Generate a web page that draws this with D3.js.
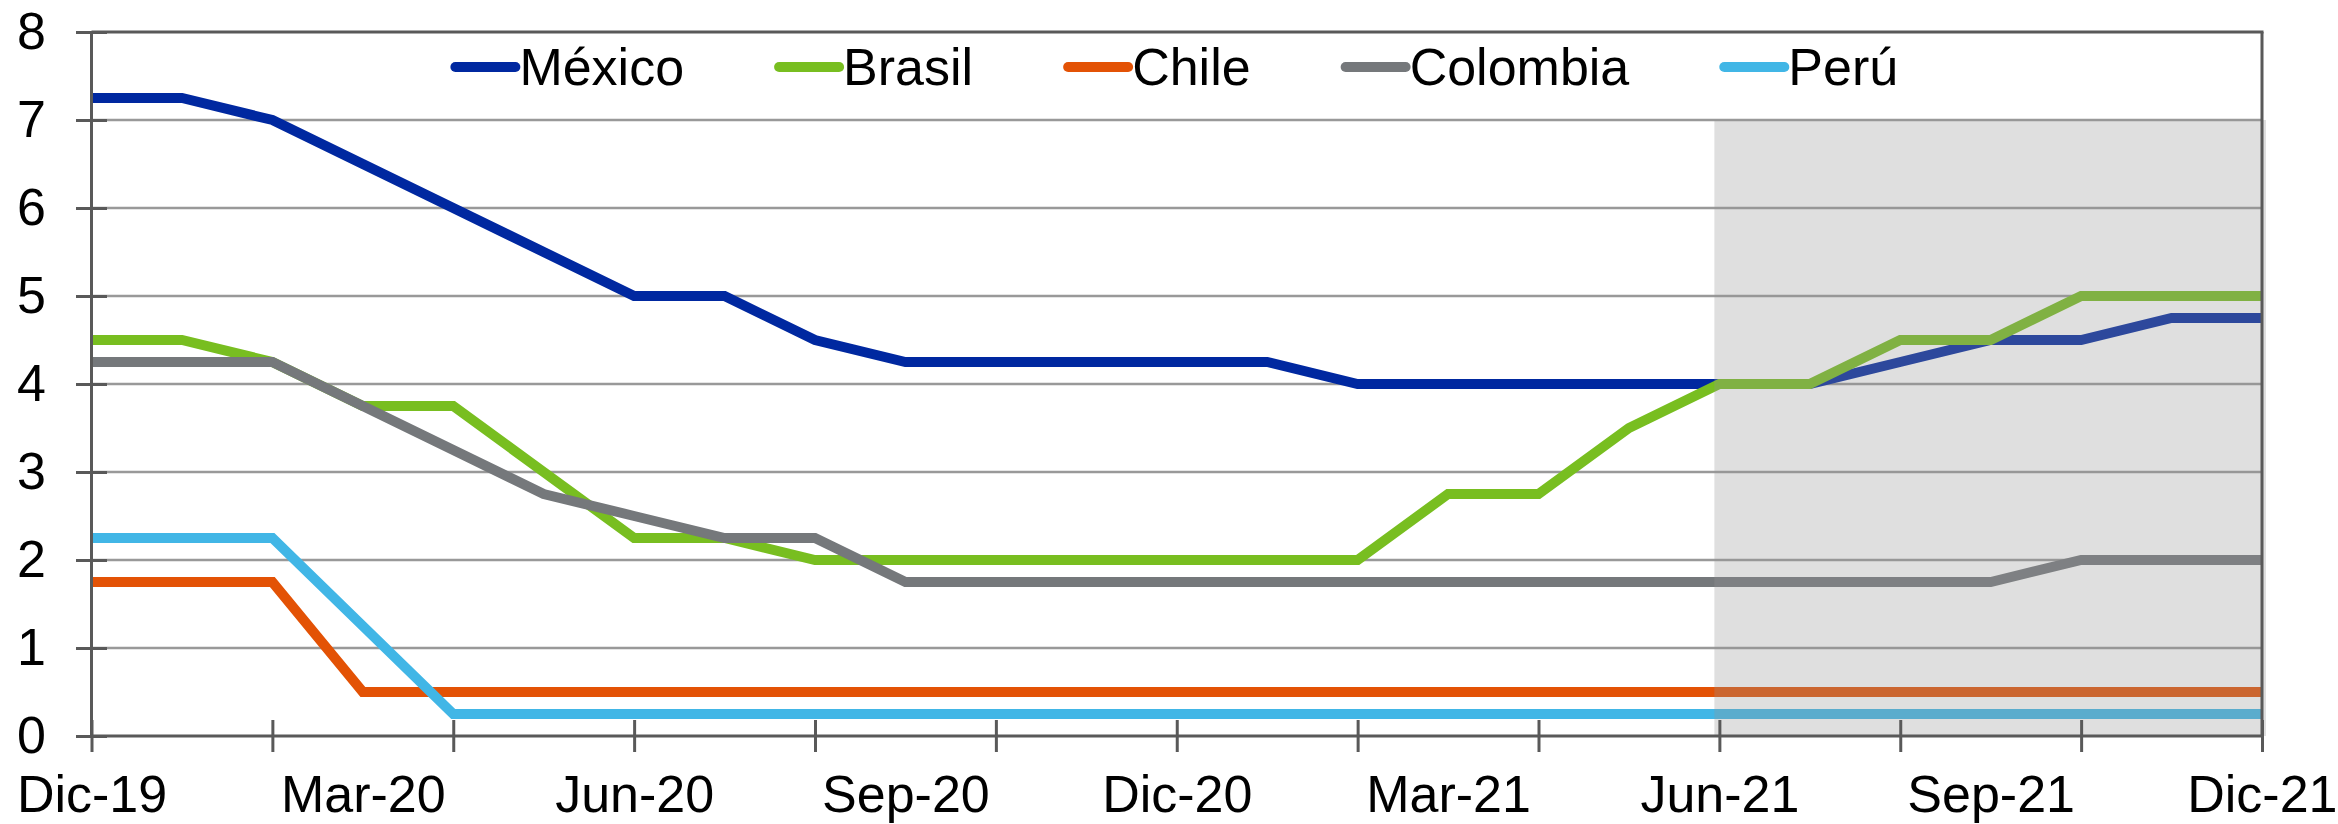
<!DOCTYPE html>
<html><head><meta charset="utf-8">
<script src="https://cdn.jsdelivr.net/npm/d3@7/dist/d3.min.js"></script>
<style>
html,body{margin:0;padding:0;background:#fff;}
svg{display:block;font-family:"Liberation Sans",Arial,sans-serif;}
</style></head>
<body>
<svg id="chart" width="2338" height="824"></svg>
<script>
// ---- data ----
const months = ["Dic-19","Ene-20","Feb-20","Mar-20","Abr-20","May-20","Jun-20","Jul-20","Ago-20","Sep-20","Oct-20","Nov-20","Dic-20","Ene-21","Feb-21","Mar-21","Abr-21","May-21","Jun-21","Jul-21","Ago-21","Sep-21","Oct-21","Nov-21","Dic-21"];
const mexico   = [7.25,7.25,7.0,6.5,6.0,5.5,5.0,5.0,4.5,4.25,4.25,4.25,4.25,4.25,4.0,4.0,4.0,4.0,4.0,4.0,4.25,4.5,4.5,4.75,4.75];
const brasil   = [4.5,4.5,4.25,3.75,3.75,3.0,2.25,2.25,2.0,2.0,2.0,2.0,2.0,2.0,2.0,2.75,2.75,3.5,4.0,4.0,4.5,4.5,5.0,5.0,5.0];
const chile    = [1.75,1.75,1.75,0.5,0.5,0.5,0.5,0.5,0.5,0.5,0.5,0.5,0.5,0.5,0.5,0.5,0.5,0.5,0.5,0.5,0.5,0.5,0.5,0.5,0.5];
const colombia = [4.25,4.25,4.25,3.75,3.25,2.75,2.5,2.25,2.25,1.75,1.75,1.75,1.75,1.75,1.75,1.75,1.75,1.75,1.75,1.75,1.75,1.75,2.0,2.0,2.0];
const peru     = [2.25,2.25,2.25,1.25,0.25,0.25,0.25,0.25,0.25,0.25,0.25,0.25,0.25,0.25,0.25,0.25,0.25,0.25,0.25,0.25,0.25,0.25,0.25,0.25,0.25];
const seriesNames  = ["México","Brasil","Chile","Colombia","Perú"];
const seriesColors = ["#0028A0","#78BE20","#E35205","#75787B","#41B6E6"];
const yTicks = [0,1,2,3,4,5,6,7,8];
const xLabelMonths = months.filter((d,i)=>i%3===0);
const xTickMonths  = months.filter((d,i)=>i%2===0);
const shadeRange = ["Jun-21","Dic-21"];
const shadeTop = 7;

const seriesValues = [mexico, brasil, chile, colombia, peru];

// ---- layout ----
const svg = d3.select("#chart");
const L = 91.5, R = 2262, T = 32, B = 736;
const x = d3.scalePoint().domain(months).range([L, R]);
const y = d3.scaleLinear().domain([0, 8]).range([B, T]);
const fontSize = 52;
const lineW = 10;

// gridlines
svg.append("g").selectAll("line").data(yTicks.filter(v=>v>0 && v<8)).join("line")
  .attr("x1", L).attr("x2", R).attr("y1", d=>y(d)).attr("y2", d=>y(d))
  .attr("stroke", "#999").attr("stroke-width", 2.5);

// series lines
const line = d3.line().x((d,i)=>x(months[i])).y(d=>y(d));
svg.append("g").selectAll("path").data(seriesValues).join("path")
  .attr("d", d=>line(d)).attr("fill","none")
  .attr("stroke", (d,i)=>seriesColors[i]).attr("stroke-width", lineW)
  .attr("stroke-linejoin","miter");

// shaded forecast area (drawn over lines)
svg.append("rect")
  .attr("x", x(shadeRange[0]) - 5).attr("y", y(shadeTop))
  .attr("width", x(shadeRange[1]) - x(shadeRange[0]) + 9)
  .attr("height", y(0) - y(shadeTop))
  .attr("fill", "rgb(150,150,150)").attr("fill-opacity", 0.3);

const axisColor = "#595959";
// plot border: top & right
svg.append("line").attr("x1", L).attr("x2", R+1.5).attr("y1", T).attr("y2", T).attr("stroke", axisColor).attr("stroke-width", 3);
svg.append("line").attr("x1", R).attr("x2", R).attr("y1", T).attr("y2", B).attr("stroke", axisColor).attr("stroke-width", 3);

// y axis: crossing ticks
const yTickG = svg.append("g").attr("transform", `translate(${L-15.5},0)`)
  .call(d3.axisRight(y).tickValues(yTicks).tickSize(31).tickFormat(""));
yTickG.select(".domain").remove();
yTickG.selectAll("line").attr("stroke", axisColor).attr("stroke-width", 3);
// y axis line
svg.append("line").attr("x1", L).attr("x2", L).attr("y1", T).attr("y2", B).attr("stroke", axisColor).attr("stroke-width", 3);
// y labels
const yLabG = svg.append("g").attr("transform", `translate(48,0)`)
  .call(d3.axisLeft(y).tickValues(yTicks).tickSize(0).tickPadding(2).tickFormat(d3.format("d")));
yLabG.select(".domain").remove();
yLabG.selectAll("text").attr("font-size", fontSize).attr("fill", "#000")
  .attr("font-family", '"Liberation Sans",Arial,sans-serif');

// x axis crossing ticks
const xTickG = svg.append("g").attr("transform", `translate(0,${B+16})`)
  .call(d3.axisTop(x).tickValues(xTickMonths).tickSize(32).tickFormat(""));
xTickG.select(".domain").remove();
xTickG.selectAll("line").attr("stroke", axisColor).attr("stroke-width", 3);
svg.append("line").attr("x1", L).attr("x2", R).attr("y1", B).attr("y2", B).attr("stroke", axisColor).attr("stroke-width", 3);
// x labels
const xLabG = svg.append("g").attr("transform", `translate(0,${B})`)
  .call(d3.axisBottom(x).tickValues(xLabelMonths).tickSize(0).tickPadding(0));
xLabG.select(".domain").remove();
xLabG.selectAll("text").attr("font-size", fontSize).attr("fill", "#000")
  .attr("font-family", '"Liberation Sans",Arial,sans-serif')
  .attr("dy", null).attr("y", 76);
// keep the last label inside the picture
xLabG.selectAll("text").filter(d=>d===months[months.length-1]).attr("text-anchor","end").attr("x", 2338-2262-1);

// legend
const legend = svg.append("g");
const swW = 60, swGap = 4, itemGap = 95, legY = 67;
const items = legend.selectAll("g").data(seriesNames).join("g");
items.append("line").attr("x1", 0).attr("x2", swW).attr("y1", 0).attr("y2", 0)
  .attr("stroke", (d,i)=>seriesColors[i]).attr("stroke-width", lineW).attr("stroke-linecap","round");
items.append("text").attr("x", swW + swGap).attr("y", 0).attr("dy","0.35em")
  .attr("font-size", fontSize).attr("fill","#000").text(d=>d);
let widths = [];
items.each(function(){ widths.push(swW + swGap + d3.select(this).select("text").node().getComputedTextLength()); });
const total = d3.sum(widths) + itemGap*(widths.length-1);
let cx = (L+R)/2 - total/2;
items.attr("transform", (d,i)=>{ const t = `translate(${cx},${legY})`; cx += widths[i] + itemGap; return t; });
</script>
</body></html>
